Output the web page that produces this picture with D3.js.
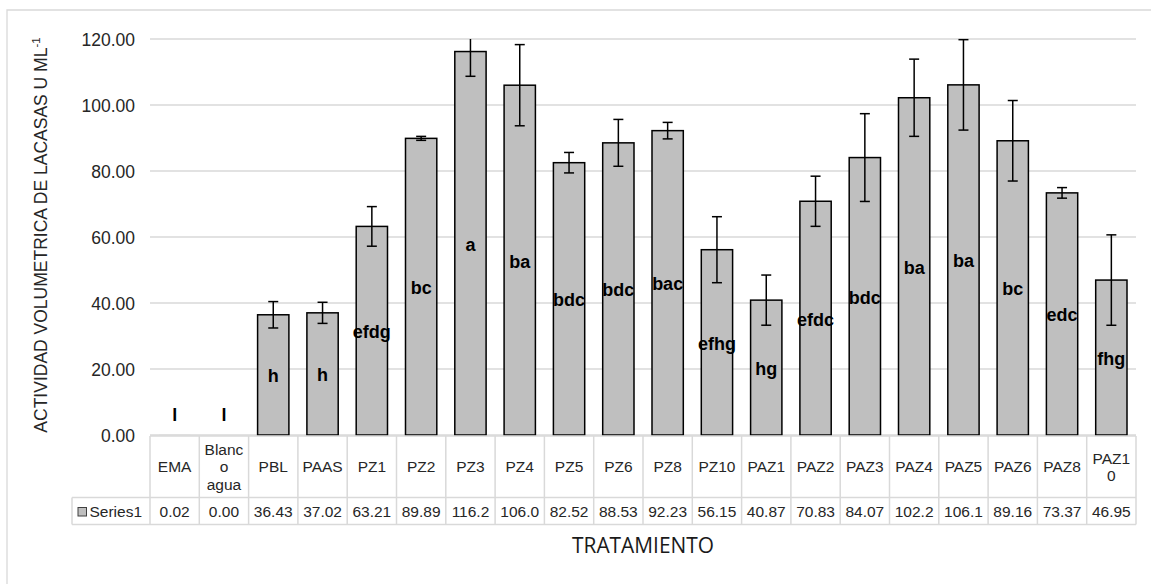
<!DOCTYPE html>
<html>
<head>
<meta charset="utf-8">
<script src="https://cdn.jsdelivr.net/npm/d3@7"></script>
<style>
  html, body { margin: 0; padding: 0; background: #fff; }
  svg { display: block; }
</style>
</head>
<body>
<script>
// ---- data ----
const categories = ["EMA", "Blanco agua", "PBL", "PAAS", "PZ1", "PZ2", "PZ3", "PZ4", "PZ5", "PZ6",
  "PZ8", "PZ10", "PAZ1", "PAZ2", "PAZ3", "PAZ4", "PAZ5", "PAZ6", "PAZ8", "PAZ10"];
const values = [0.02, 0.00, 36.43, 37.02, 63.21, 89.89, 116.2, 106.0, 82.52, 88.53,
  92.23, 56.15, 40.87, 70.83, 84.07, 102.2, 106.1, 89.16, 73.37, 46.95];
const errors = [0, 0, 4.0, 3.2, 6.0, 0.6, 7.5, 12.3, 3.1, 7.1,
  2.5, 10.0, 7.6, 7.6, 13.3, 11.7, 13.7, 12.2, 1.6, 13.7];
const letters = ["l", "l", "h", "h", "efdg", "bc", "a", "ba", "bdc", "bdc",
  "bac", "efhg", "hg", "efdc", "bdc", "ba", "ba", "bc", "edc", "fhg"];
const yTicks = [0, 20, 40, 60, 80, 100, 120];
const seriesName = "Series1";
const yTitle = "ACTIVIDAD VOLUMETRICA DE LACASAS U ML";
const yTitleSup = "-1";
const xTitle = "TRATAMIENTO";

// ---- layout ----
const W = 1151, H = 584;
const plot = { left: 150, right: 1136, top: 39, bottom: 435 };
const table = { legendLeft: 72, top: 436, mid: 497.5, bottom: 524.5 };
const gridColor = "#d9d9d9";
const textColor = "#262626";

const svg = d3.select("body").append("svg").attr("width", W).attr("height", H);

// outer chart border (top & left visible)
svg.append("path")
  .attr("d", `M7,${H} L7,10 L${W},10`)
  .attr("fill", "none").attr("stroke", gridColor).attr("stroke-width", 1.3);

const x = d3.scaleBand().domain(categories).range([plot.left, plot.right])
  .paddingInner(0.365).paddingOuter(0.1825);
const y = d3.scaleLinear().domain([0, 120]).range([plot.bottom, plot.top]);

// gridlines
svg.append("g").selectAll("line").data(yTicks).join("line")
  .attr("x1", plot.left).attr("x2", plot.right)
  .attr("y1", d => y(d)).attr("y2", d => y(d))
  .attr("stroke", gridColor).attr("stroke-width", 1.3);

// y axis tick labels
const yAxis = d3.axisLeft(y).tickValues(yTicks).tickFormat(d3.format(".2f")).tickSize(0).tickPadding(0);
const gy = svg.append("g").attr("transform", `translate(135,0)`).call(yAxis);
gy.select(".domain").remove();
gy.selectAll("text")
  .attr("font-family", "'Liberation Sans', Arial, sans-serif")
  .attr("font-size", 17.5).attr("fill", textColor).attr("dy", "0.36em");

// y title
const yt = svg.append("text")
  .attr("transform", "translate(47,235) rotate(-90)")
  .attr("text-anchor", "middle")
  .attr("font-family", "'Liberation Sans', Arial, sans-serif")
  .attr("font-size", 17.5).attr("fill", textColor);
yt.append("tspan").text(yTitle);
yt.append("tspan").attr("dy", -7).attr("font-size", 11.5).text(yTitleSup);

// bars
svg.append("g").selectAll("rect").data(categories).join("rect")
  .attr("x", d => x(d)).attr("width", x.bandwidth())
  .attr("y", (d, i) => y(values[i]))
  .attr("height", (d, i) => y(0) - y(values[i]))
  .attr("fill", "#bfbfbf")
  .attr("stroke", (d, i) => (y(0) - y(values[i]) >= 1 ? "#000" : "none"))
  .attr("stroke-width", 1.5);

// error bars (clipped at axis max)
const eg = svg.append("g").attr("stroke", "#000").attr("stroke-width", 1.5);
categories.forEach((c, i) => {
  if (!errors[i]) return;
  const cx = x(c) + x.bandwidth() / 2;
  const hiV = values[i] + errors[i], loV = values[i] - errors[i];
  const hi = y(Math.min(hiV, 120)), lo = y(Math.max(loV, 0));
  eg.append("line").attr("x1", cx).attr("x2", cx).attr("y1", hi).attr("y2", lo);
  if (hiV <= 120) eg.append("line").attr("x1", cx - 5).attr("x2", cx + 5).attr("y1", hi).attr("y2", hi);
  eg.append("line").attr("x1", cx - 5).attr("x2", cx + 5).attr("y1", lo).attr("y2", lo);
});

// letter labels (inside center)
svg.append("g").selectAll("text").data(categories).join("text")
  .attr("x", d => x(d) + x.bandwidth() / 2)
  .attr("y", (d, i) => values[i] < 1 ? y(0) - 14 : y(values[i] / 2) + 7.5)
  .attr("text-anchor", "middle")
  .attr("font-family", "'Liberation Sans', Arial, sans-serif")
  .attr("font-weight", "bold").attr("font-size", 18).attr("fill", "#000")
  .text((d, i) => letters[i]);

// ---- data table ----
const tg = svg.append("g");
const step = x.step();
const colLeft = i => plot.left + i * step;
const tStroke = { stroke: gridColor, "stroke-width": 1.5 };
function line(x1, y1, x2, y2) {
  tg.append("line").attr("x1", x1).attr("y1", y1).attr("x2", x2).attr("y2", y2)
    .attr("stroke", gridColor).attr("stroke-width", 1.5);
}
// horizontal lines
line(plot.left, table.top, plot.right, table.top);
line(table.legendLeft, table.mid, plot.right, table.mid);
line(table.legendLeft, table.bottom, plot.right, table.bottom);
// vertical lines
line(table.legendLeft, table.mid, table.legendLeft, table.bottom);
for (let i = 0; i <= categories.length; i++) line(colLeft(i), table.top, colLeft(i), table.bottom);

// text wrapping helper (character-level like Excel narrow cells)
const measurer = svg.append("text").attr("font-family", "'Liberation Sans', Arial, sans-serif")
  .attr("font-size", 15.5).attr("visibility", "hidden");
function tw(s) { measurer.text(s); return measurer.node().getComputedTextLength(); }
function wrap(label, maxW) {
  const out = [];
  label.split(" ").forEach(word => {
    let cur = "";
    for (const ch of word) {
      if (cur && tw(cur + ch) > maxW) { out.push(cur); cur = ch; }
      else cur += ch;
    }
    if (cur) out.push(cur);
  });
  return out;
}
const headCenter = (table.top + table.mid) / 2;
categories.forEach((c, i) => {
  const lines = wrap(c, 44);
  const lh = 17.5;
  const t = tg.append("text")
    .attr("text-anchor", "middle")
    .attr("font-family", "'Liberation Sans', Arial, sans-serif")
    .attr("font-size", 15.5).attr("fill", textColor);
  lines.forEach((ln, k) => {
    t.append("tspan").attr("x", colLeft(i) + step / 2)
      .attr("y", headCenter + (k - (lines.length - 1) / 2) * lh + 5.5)
      .text(ln);
  });
  tg.append("text")
    .attr("x", colLeft(i) + step / 2).attr("y", (table.mid + table.bottom) / 2 + 5.5)
    .attr("text-anchor", "middle")
    .attr("font-family", "'Liberation Sans', Arial, sans-serif")
    .attr("font-size", 15.5).attr("fill", textColor)
    .text(values[i] >= 100 ? values[i].toFixed(1) : values[i].toFixed(2));
});
measurer.remove();
// legend key
tg.append("rect").attr("x", 78).attr("y", 507.5).attr("width", 8.5).attr("height", 8.5)
  .attr("fill", "#bfbfbf").attr("stroke", "#404040").attr("stroke-width", 1);
tg.append("text").attr("x", 89.5).attr("y", (table.mid + table.bottom) / 2 + 5.5)
  .attr("font-family", "'Liberation Sans', Arial, sans-serif")
  .attr("font-size", 15.5).attr("fill", textColor).text(seriesName);

// x title
svg.append("text").attr("x", 643).attr("y", 552.5)
  .attr("text-anchor", "middle")
  .attr("font-family", "'Open Sans', sans-serif")
  .attr("font-size", 21).attr("fill", "#1a1a1a")
  .attr("textLength", 142).attr("lengthAdjust", "spacingAndGlyphs")
  .text(xTitle);
</script>
</body>
</html>
